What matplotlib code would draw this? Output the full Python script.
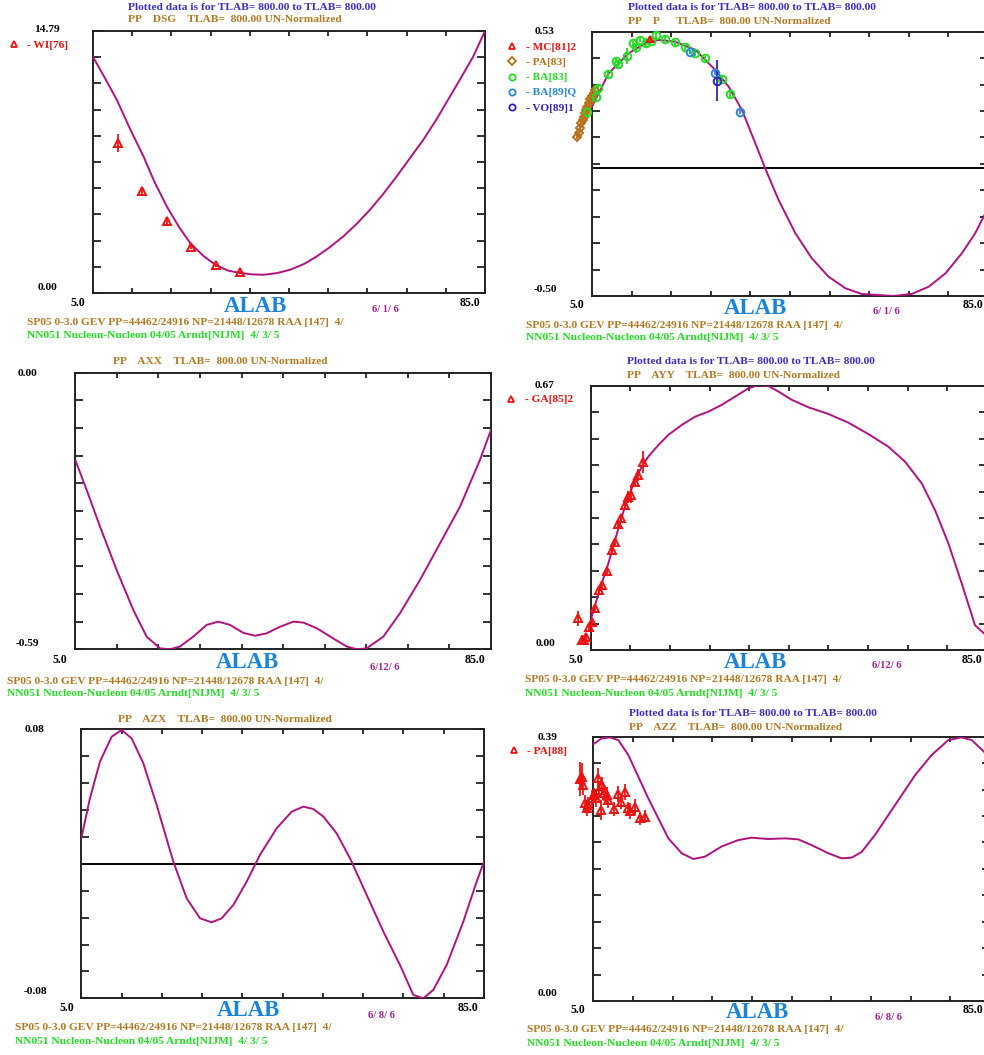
import numpy as np
import matplotlib
matplotlib.use("Agg")
import matplotlib.pyplot as plt

plt.rcParams['font.family'] = ['Liberation Serif', 'DejaVu Serif']
plt.rcParams['font.weight'] = 'bold'

# ---------------- data ----------------
X_MIN, X_MAX = 5.0, 85.0

# DSG
dsg_ang = [5.0, 7.5, 9.89, 12.5, 15.32, 17.5, 20.08, 22.5, 24.83, 27.5, 29.92, 32.5, 35.02, 37.5, 39.77,
           42.5, 45.2, 48.0, 50.64, 53.3, 56.07, 58.8, 61.5, 64.2, 66.94, 69.6, 72.37, 75.1, 77.8, 80.2,
           82.56, 85.0]
dsg_val = [13.33, 12.1, 10.89, 9.3, 7.70, 6.3, 4.88, 3.75, 2.82, 2.1, 1.60, 1.27, 1.13, 1.05, 1.03,
           1.12, 1.31, 1.63, 2.06, 2.58, 3.19, 3.90, 4.69, 5.58, 6.57, 7.58, 8.63, 9.8, 11.07, 12.2,
           13.33, 14.79]
wi76_ang = [10, 15, 20, 25, 30, 35]
wi76_val = [8.45, 5.76, 4.04, 2.61, 1.56, 1.16]
wi76_err = [0.5, 0.25, 0.2, 0.12, 0.08, 0.06]

# P
p_ang = [5.0, 8.37, 12.4, 15.8, 18.5, 21.8, 25.9, 29.9, 32.6, 35.3, 38.0, 40.0, 42.7, 46.1, 49.4, 52.8,
         56.2, 59.5, 65.9, 69.6, 73.0, 76.4, 79.7, 82.4, 84.3, 85.0]
p_val = [0.238, 0.368, 0.446, 0.485, 0.498, 0.491, 0.459, 0.381, 0.316, 0.225, 0.095, -0.003, -0.126,
         -0.256, -0.353, -0.425, -0.470, -0.492, -0.500, -0.492, -0.464, -0.412, -0.334, -0.256, -0.184, -0.165]
mc81_ang = [16.7]
mc81_val = [0.502]
mc81_err = [0.01]
pa83_ang = [1.97, 2.31, 2.64, 2.85, 3.11, 3.32, 3.52, 3.79, 4.06, 4.33, 4.66, 5.0, 5.34, 5.67]
pa83_val = [0.118, 0.136, 0.153, 0.173, 0.186, 0.199, 0.212, 0.225, 0.238, 0.253, 0.266, 0.279, 0.292, 0.303]
pa83_err = [0.008] * 14
ba83_ang = [4.05, 5.81, 6.15, 8.17, 9.85, 10.31, 12.0, 13.2, 13.9, 14.7, 15.9, 16.9, 17.9, 19.8, 21.8,
            23.8, 25.8, 27.8, 31.2, 32.9]
ba83_val = [0.216, 0.277, 0.312, 0.365, 0.417, 0.403, 0.435, 0.485, 0.472, 0.498, 0.485, 0.495, 0.517,
            0.502, 0.489, 0.469, 0.446, 0.426, 0.346, 0.287]
ba83_err = [0.01, 0.01, 0.01, 0.01, 0.01, 0.015, 0.03, 0.01, 0.025, 0.01, 0.02, 0.01, 0.015, 0.01, 0.01,
            0.01, 0.01, 0.01, 0.01, 0.01]
ba89_ang = [24.8, 29.8, 34.9]
ba89_val = [0.452, 0.368, 0.216]
ba89_err = [0.008, 0.008, 0.008]
vo89_ang = [30.2]
vo89_val = [0.339]
vo89_err = [0.081]

# AXX
axx_ang = [5.0, 7.18, 9.75, 12.96, 16.16, 18.73, 21.30, 23.22, 25.14, 27.71, 30.28, 32.52, 34.77, 37.33,
           39.58, 41.82, 44.39, 46.96, 48.88, 51.45, 54.66, 57.22, 59.15, 61.07, 64.28, 67.49, 71.34,
           75.19, 79.03, 82.88, 85.0]
axx_val = [-0.186, -0.250, -0.328, -0.421, -0.506, -0.563, -0.588, -0.590, -0.584, -0.563, -0.538, -0.531,
           -0.538, -0.555, -0.561, -0.556, -0.542, -0.531, -0.533, -0.545, -0.567, -0.584, -0.590, -0.588,
           -0.563, -0.513, -0.442, -0.364, -0.286, -0.186, -0.122]

# AYY
ayy_ang = [5.0, 5.88, 7.22, 8.57, 9.92, 11.26, 12.61, 13.96, 15.30, 16.65, 18.67, 20.69, 23.38, 26.08,
           28.77, 31.46, 34.16, 36.85, 38.87, 40.89, 42.91, 45.61, 48.97, 53.01, 57.05, 61.09, 65.13,
           68.50, 71.87, 74.56, 77.25, 79.95, 82.64, 84.46, 85.0]
ayy_val = [0.076, 0.114, 0.169, 0.220, 0.279, 0.338, 0.389, 0.431, 0.465, 0.491, 0.520, 0.546, 0.571,
           0.592, 0.605, 0.622, 0.643, 0.664, 0.672, 0.670, 0.656, 0.635, 0.616, 0.599, 0.577, 0.548,
           0.516, 0.478, 0.423, 0.355, 0.271, 0.169, 0.063, 0.042, 0.035]
ga85_ang = [2.49, 3.18, 3.65, 4.05, 4.72, 5.2, 5.87, 6.74, 7.22, 8.23, 9.24, 9.91, 10.58, 11.06, 11.93,
            12.6, 13.08, 13.95, 14.62, 15.5]
ga85_val = [0.080, 0.025, 0.025, 0.034, 0.059, 0.072, 0.106, 0.152, 0.165, 0.201, 0.254, 0.275, 0.320,
            0.334, 0.368, 0.389, 0.393, 0.427, 0.444, 0.478]
ga85_err = [0.02, 0.012, 0.01, 0.01, 0.01, 0.01, 0.008, 0.008, 0.01, 0.01, 0.008, 0.008, 0.01, 0.008,
            0.01, 0.015, 0.02, 0.01, 0.015, 0.028]

# AZX
azx_ang = [5.0, 6.72, 8.71, 11.03, 13.01, 15.0, 17.32, 19.97, 23.28, 25.93, 28.58, 30.89, 32.88, 35.20,
           37.85, 40.50, 43.81, 46.79, 49.11, 51.09, 53.08, 55.73, 58.38, 61.69, 65.0, 68.31, 70.96,
           72.95, 74.93, 77.58, 80.89, 83.54, 85.0]
azx_val = [0.0152, 0.0390, 0.0608, 0.0756, 0.0796, 0.0746, 0.0598, 0.0350, 0.0013, -0.0205, -0.0324,
           -0.0348, -0.0324, -0.0245, -0.0106, 0.0053, 0.0211, 0.0310, 0.0340, 0.0326, 0.0281, 0.0181,
           0.0033, -0.0185, -0.0403, -0.0602, -0.0780, -0.0800, -0.0750, -0.0602, -0.0344, -0.0106, 0.0013]

# AZZ
azz_ang = [5.0, 6.68, 8.36, 10.04, 12.06, 14.08, 16.09, 18.11, 20.13, 22.82, 25.17, 27.52, 30.88, 34.24,
           36.93, 40.29, 43.66, 46.34, 49.03, 52.40, 55.08, 57.10, 59.12, 61.81, 65.84, 69.87, 73.23,
           76.60, 79.29, 81.30, 83.79, 85.0]
azz_val = [0.379, 0.3875, 0.389, 0.385, 0.363, 0.331, 0.299, 0.2695, 0.240, 0.218, 0.2095, 0.213, 0.228,
           0.2375, 0.241, 0.239, 0.240, 0.2385, 0.230, 0.218, 0.2105, 0.2115, 0.220, 0.245, 0.289, 0.333,
           0.363, 0.385, 0.389, 0.385, 0.368, 0.355]
pa88_ang = [2.31, 2.65, 2.98, 3.32, 3.66, 3.99, 4.66, 5.20, 5.47, 5.87, 6.14, 6.55, 6.82, 7.22, 7.69,
            8.03, 9.24, 9.91, 10.58, 11.39, 12.06, 12.40, 13.40, 14.41, 15.42]
pa88_val = [0.3275, 0.331, 0.3187, 0.2916, 0.2843, 0.2892, 0.299, 0.304, 0.299, 0.3285, 0.311, 0.2818,
            0.3187, 0.3064, 0.304, 0.2966, 0.2833, 0.305, 0.2931, 0.3079, 0.2843, 0.2803, 0.2867,
            0.2695, 0.272]
pa88_err = [0.025, 0.02, 0.015, 0.012, 0.012, 0.012, 0.012, 0.01, 0.012, 0.015, 0.012, 0.015, 0.012,
            0.012, 0.012, 0.012, 0.01, 0.012, 0.01, 0.012, 0.01, 0.012, 0.012, 0.01, 0.01]

# ---------------- styling ----------------
W, H = 984, 1055
C_CURVE = '#b0127f'
C_BLUE_T = '#3a2ccc'
C_BROWN = '#b07a22'
C_GREEN = '#22dd22'
C_RED = '#ee1111'
C_ALAB = '#1a84dd'
C_DATE = '#a0208f'
C_PA = '#b8701a'
C_BAQ = '#2a86d6'
C_VO = '#3322b8'

FS = 8.2
SUB1 = "SP05 0-3.0 GEV PP=44462/24916 NP=21448/12678 RAA [147]  4/"
SUB2 = "NN051 Nucleon-Nucleon 04/05 Arndt[NIJM]  4/ 3/ 5"
TITLE1 = "Plotted data is for TLAB= 800.00 to TLAB= 800.00"

fig = plt.figure(figsize=(W / 100, H / 100), dpi=100)
fig.patch.set_facecolor('white')


def txt(x, y, s, **kw):
    kw.setdefault('fontsize', FS)
    kw.setdefault('fontweight', 'bold')
    kw.setdefault('va', 'center')
    fig.text(x / W, 1 - y / H, s, **kw)


def add_ax(l, t, r, b, ymin, ymax):
    ax = fig.add_axes([l / W, 1 - b / H, (r - l) / W, (b - t) / H])
    ax.set_xlim(X_MIN, X_MAX)
    ax.set_ylim(ymin, ymax)
    ax.set_xticks(np.linspace(X_MIN, X_MAX, 11))
    ax.set_yticks(np.linspace(ymin, ymax, 11))
    ax.tick_params(axis='both', direction='in', top=True, right=True, bottom=True, left=True,
                   labelbottom=False, labelleft=False, width=1.3, color='#222222')
    ax.tick_params(axis='x', length=3.5)
    ax.tick_params(axis='y', length=5.5)
    for s in ax.spines.values():
        s.set_linewidth(1.4)
        s.set_color('#222222')
    return ax


def pts(ax, x, y, e, marker, color, ms=5):
    x = np.asarray(x); y = np.asarray(y); e = np.asarray(e)
    ax.vlines(x, y - e, y + e, colors=color, linewidth=1.3, clip_on=False, zorder=4)
    ax.plot(x, y, linestyle='none', marker=marker, mfc='none', mec=color, mew=1.4, ms=ms,
            clip_on=False, zorder=5)


def decorations(ytop_lbl, ybot_lbl, ytop_pos, ybot_pos, ylbl_x, x5_pos, x85_pos, alab_pos,
                date_pos, date, sub_pos, sub_gap, title1_pos, title2):
    if title1_pos is not None:
        txt(title1_pos[0], title1_pos[1], TITLE1, color=C_BLUE_T, ha='left')
    txt(title2[0], title2[1], title2[2], color=C_BROWN, ha='left')
    txt(ylbl_x, ytop_pos, ytop_lbl, color='black', ha='center')
    txt(ylbl_x, ybot_pos, ybot_lbl, color='black', ha='center')
    txt(x5_pos[0], x5_pos[1], "5.0", color='black', ha='center', fontsize=8.6)
    txt(x85_pos[0], x85_pos[1], "85.0", color='black', ha='center', fontsize=8.6)
    txt(alab_pos[0], alab_pos[1], "ALAB", color=C_ALAB, ha='center', fontsize=16.5)
    txt(date_pos[0], date_pos[1], date, color=C_DATE, ha='center', fontsize=7.6)
    txt(sub_pos[0], sub_pos[1], SUB1, color=C_BROWN, ha='left')
    txt(sub_pos[0], sub_pos[1] + sub_gap, SUB2, color=C_GREEN, ha='left')


def legend(entries, x_marker, x_text, y0, dy):
    for i, (m, c, lab) in enumerate(entries):
        y = y0 + i * dy
        fig.lines.append(plt.Line2D([x_marker / W], [1 - y / H], transform=fig.transFigure,
                                    marker=m, mfc='none', mec=c, mew=1.3, ms=4.5, linestyle='none'))
        txt(x_text, y + 1, "- " + lab, color=c, ha='left')


# ---------- Panel 1: DSG ----------
ax1 = add_ax(93, 31, 485, 293, 0.0, 14.79)
ax1.plot(dsg_ang, dsg_val, color=C_CURVE, lw=1.4, zorder=3)
pts(ax1, wi76_ang, wi76_val, wi76_err, '^', C_RED, ms=6)
decorations("14.79", "0.00", 30, 287, 47, (78, 303), (470, 303), (255, 306), (385, 310), "6/ 1/ 6",
            (27, 323), 13, (128, 7), (128, 20, "PP    DSG    TLAB=  800.00 UN-Normalized"))
legend([('^', C_RED, "WI[76]")], 14, 27, 44, 15)

# ---------- Panel 2: P ----------
ax2 = add_ax(592, 31.7, 988, 296, -0.50, 0.53)
ax2.axhline(0.0, color='black', lw=1.4, zorder=2)
ax2.plot(p_ang, p_val, color=C_CURVE, lw=1.4, zorder=3)
pts(ax2, pa83_ang, pa83_val, pa83_err, 'D', C_PA, ms=4.5)
pts(ax2, ba83_ang, ba83_val, ba83_err, 'o', C_GREEN, ms=5.5)
pts(ax2, mc81_ang, mc81_val, mc81_err, '^', C_RED, ms=4)
pts(ax2, ba89_ang, ba89_val, ba89_err, 'o', C_BAQ, ms=5.5)
pts(ax2, vo89_ang, vo89_val, vo89_err, 'o', C_VO, ms=5.5)
decorations("0.53", "-0.50", 32, 289, 545, (577, 305), (973, 305), (755, 308), (886, 312), "6/ 1/ 6",
            (526, 325), 13, (628, 8), (628, 21, "PP    P      TLAB=  800.00 UN-Normalized"))
legend([('^', C_RED, "MC[81]2"), ('D', C_PA, "PA[83]"), ('o', C_GREEN, "BA[83]"),
        ('o', C_BAQ, "BA[89]Q"), ('o', C_VO, "VO[89]1")], 512, 526, 46, 15.3)

# ---------- Panel 3: AXX ----------
ax3 = add_ax(75.3, 372.7, 491, 649.3, -0.59, 0.0)
ax3.plot(axx_ang, axx_val, color=C_CURVE, lw=1.4, zorder=3)
decorations("0.00", "-0.59", 373, 643, 27, (60, 660), (475, 660), (247, 663), (385, 667), "6/12/ 6",
            (7, 681), 13, None, (113, 362, "PP    AXX    TLAB=  800.00 UN-Normalized"))

# ---------- Panel 4: AYY ----------
ax4 = add_ax(590.7, 386, 986.7, 650, 0.0, 0.67)
ax4.plot(ayy_ang, ayy_val, color=C_CURVE, lw=1.4, zorder=3)
pts(ax4, ga85_ang, ga85_val, ga85_err, '^', C_RED, ms=6)
decorations("0.67", "0.00", 386, 643, 545, (576, 660), (972, 660), (755, 663), (887, 666), "6/12/ 6",
            (525, 680), 13, (627, 362), (627, 376, "PP    AYY    TLAB=  800.00 UN-Normalized"))
legend([('^', C_RED, "GA[85]2")], 511, 525, 399, 15)

# ---------- Panel 5: AZX ----------
ax5 = add_ax(81.3, 729.3, 484, 998.3, -0.08, 0.08)
ax5.axhline(0.0, color='black', lw=1.4, zorder=2)
ax5.plot(azx_ang, azx_val, color=C_CURVE, lw=1.4, zorder=3)
decorations("0.08", "-0.08", 729, 992, 35, (67, 1008), (468, 1008), (248, 1011), (381, 1016), "6/ 8/ 6",
            (15, 1028), 14, None, (118, 719, "PP    AZX    TLAB=  800.00 UN-Normalized"))

# ---------- Panel 6: AZZ ----------
ax6 = add_ax(593.3, 736.7, 990, 1001, 0.0, 0.39)
ax6.plot(azz_ang, azz_val, color=C_CURVE, lw=1.4, zorder=3)
pts(ax6, pa88_ang, pa88_val, pa88_err, '^', C_RED, ms=6)
decorations("0.39", "0.00", 737, 994, 548, (578, 1010), (973, 1010), (757, 1013), (888, 1017), "6/ 8/ 6",
            (527, 1030), 13, (629, 713), (629, 727, "PP    AZZ    TLAB=  800.00 UN-Normalized"))
legend([('^', C_RED, "PA[88]")], 514, 527, 750, 15)

fig.savefig("out.png", dpi=100, facecolor='white')
